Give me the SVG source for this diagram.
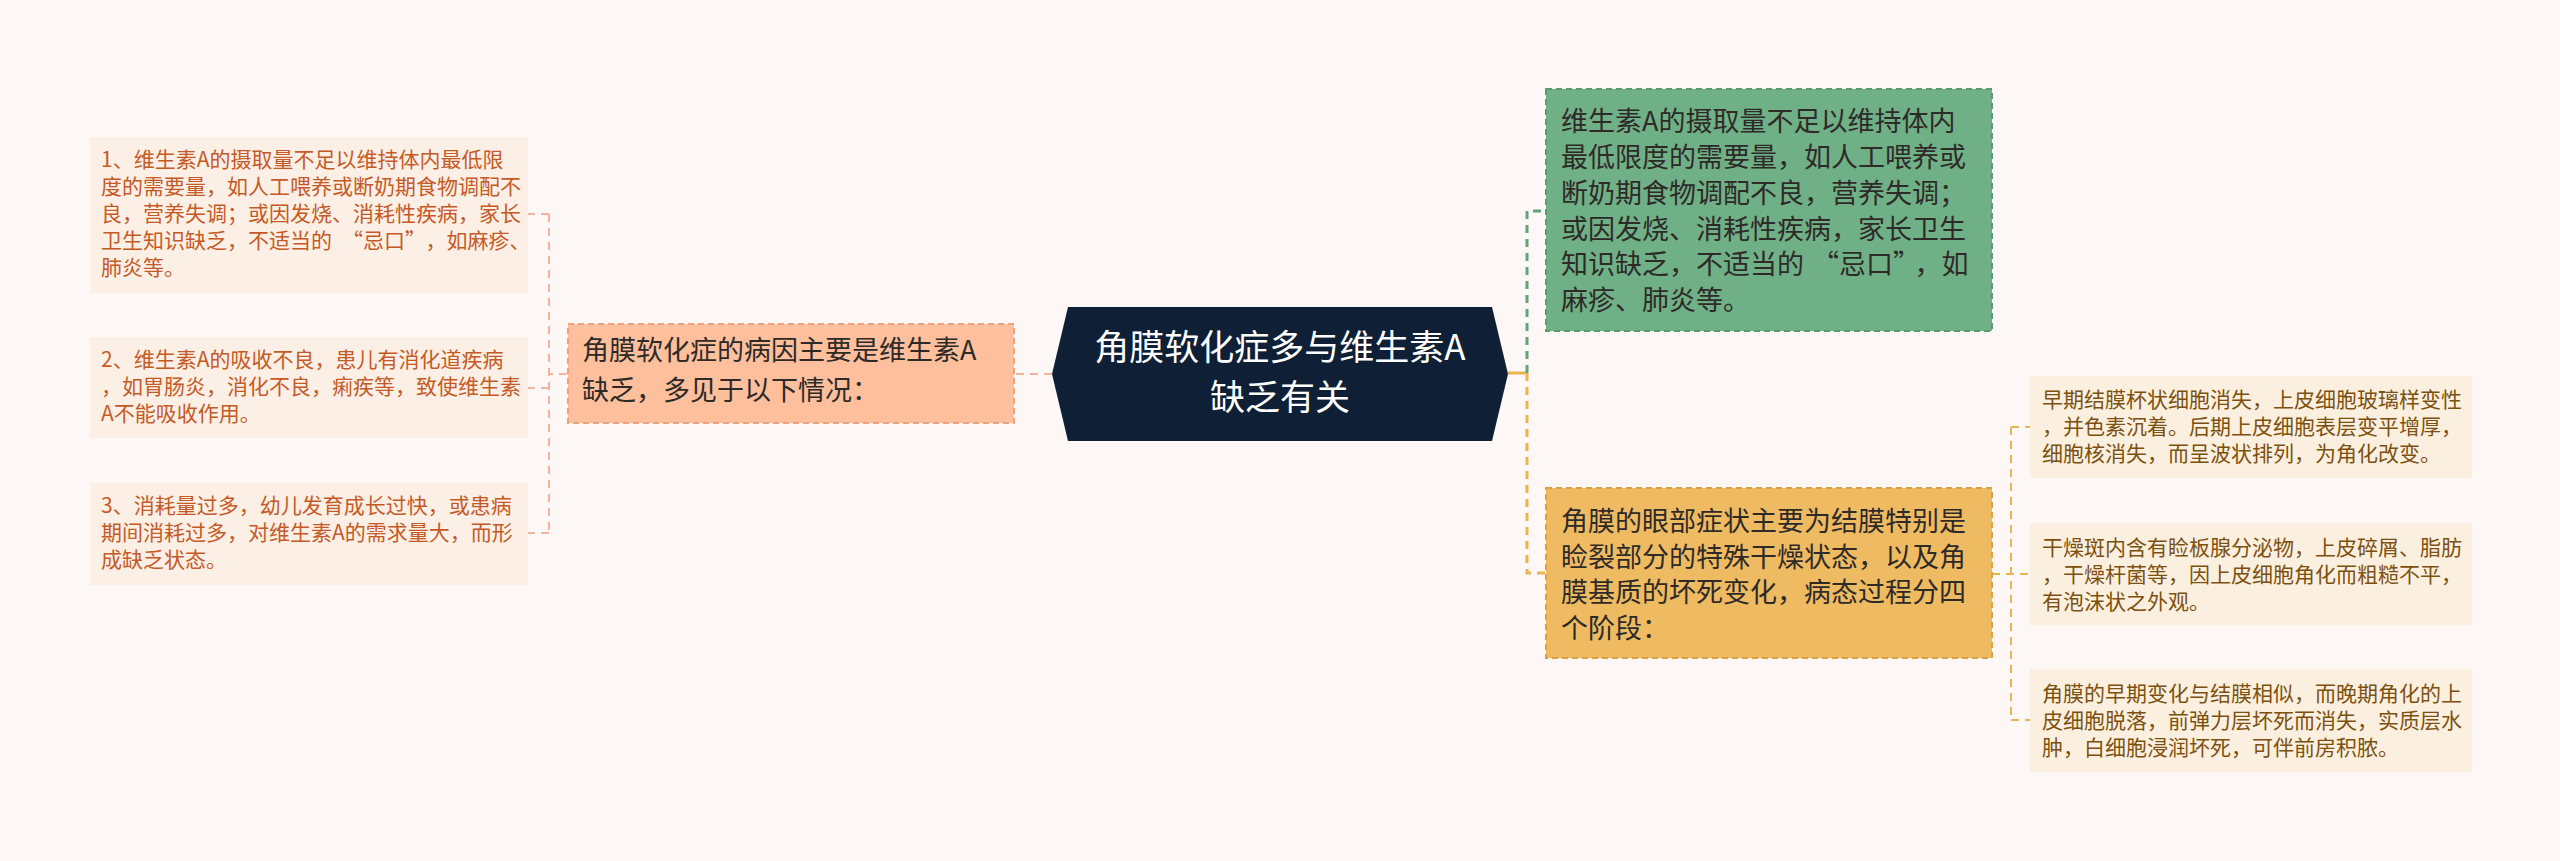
<svg xmlns="http://www.w3.org/2000/svg" width="2560" height="861" viewBox="0 0 2560 861">
<defs>
<style>
text { font-family: "Noto Sans CJK SC", "Noto Sans", sans-serif; }
.leafL rect { fill: #fcefe5; }
.leafL text { font-size: 21px; fill: #c65a26; }
.leafR rect { fill: #fbf0df; }
.leafR text { font-size: 21px; fill: #7e500f; }
.mid text { font-size: 27px; fill: #2e2a28; }
.conL { fill: none; stroke: #f2b59b; stroke-width: 2; stroke-dasharray: 8 6; }
.conG { fill: none; stroke: #5fa57a; stroke-width: 3; stroke-dasharray: 8 6; }
.conY { fill: none; stroke: #e9b552; stroke-width: 3; stroke-dasharray: 8 6; }
.conY2 { fill: none; stroke: #e9b552; stroke-width: 2; stroke-dasharray: 8 6; }
</style>
</defs>
<rect x="0" y="0" width="2560" height="861" fill="#fdf8f6"/>

<g id="connectors">
<path class="conL" d="M1052,374 H1014"/>
<path class="conL" d="M567,374 H549"/>
<path class="conL" d="M549,214 V533"/>
<path class="conL" d="M549,214 H528"/>
<path class="conL" d="M549,388 H528"/>
<path class="conL" d="M549,533 H528"/>
<path d="M1508,373 H1527" fill="none" stroke="#e9b552" stroke-width="3"/>
<path class="conG" d="M1527,373 V211 H1546"/>
<path class="conY" d="M1527,373 V573 H1546"/>
<path class="conY2" d="M1992,574 H2030"/>
<path class="conY2" d="M2011,427 V720"/>
<path class="conY2" d="M2011,427 H2030"/>
<path class="conY2" d="M2011,720 H2030"/>
</g>

<g id="root">
<polygon points="1068,307 1492,307 1508,374 1492,441 1068,441 1052,374" fill="#0e1f36"/>
<text x="1280" y="360" font-size="35" fill="#ffffff" text-anchor="middle">角膜软化症多与维生素A</text>
<text x="1280" y="410" font-size="35" fill="#ffffff" text-anchor="middle">缺乏有关</text>
</g>

<g id="cause" class="mid">
<rect x="568" y="324" width="446" height="99" fill="#fdbf9c" stroke="#f0a27e" stroke-width="2" stroke-dasharray="6 4"/>
<text x="582" y="360">角膜软化症的病因主要是维生素A</text>
<text x="582" y="400">缺乏，多见于以下情况：</text>
</g>

<g id="cause1" class="leafL">
<rect x="90" y="137" width="438" height="156"/>
<text x="101" y="167">1、维生素A的摄取量不足以维持体内最低限</text>
<text x="101" y="194">度的需要量，如人工喂养或断奶期食物调配不</text>
<text x="101" y="221">良，营养失调；或因发烧、消耗性疾病，家长</text>
<text x="101" y="248">卫生知识缺乏，不适当的<tspan dx="10">“</tspan>忌口”<tspan dx="10">，</tspan>如麻疹、</text>
<text x="101" y="275">肺炎等。</text>
</g>

<g id="cause2" class="leafL">
<rect x="90" y="337" width="438" height="101"/>
<text x="101" y="367">2、维生素A的吸收不良，患儿有消化道疾病</text>
<text x="101" y="394">，如胃肠炎，消化不良，痢疾等，致使维生素</text>
<text x="101" y="421">A不能吸收作用。</text>
</g>

<g id="cause3" class="leafL">
<rect x="90" y="483" width="438" height="102"/>
<text x="101" y="513">3、消耗量过多，幼儿发育成长过快，或患病</text>
<text x="101" y="540">期间消耗过多，对维生素A的需求量大，而形</text>
<text x="101" y="567">成缺乏状态。</text>
</g>

<g id="intake" class="mid">
<rect x="1546" y="89" width="446" height="242" fill="#70b086" stroke="#5a9a6f" stroke-width="2" stroke-dasharray="6 4"/>
<text x="1561" y="131">维生素A的摄取量不足以维持体内</text>
<text x="1561" y="167">最低限度的需要量，如人工喂养或</text>
<text x="1561" y="203">断奶期食物调配不良，营养失调；</text>
<text x="1561" y="239">或因发烧、消耗性疾病，家长卫生</text>
<text x="1561" y="274">知识缺乏，不适当的<tspan dx="8">“</tspan>忌口”<tspan dx="8">，</tspan>如</text>
<text x="1561" y="310">麻疹、肺炎等。</text>
</g>

<g id="symptoms" class="mid">
<rect x="1546" y="488" width="446" height="170" fill="#efbb62" stroke="#dca144" stroke-width="2" stroke-dasharray="6 4"/>
<text x="1561" y="531">角膜的眼部症状主要为结膜特别是</text>
<text x="1561" y="567">睑裂部分的特殊干燥状态，以及角</text>
<text x="1561" y="602">膜基质的坏死变化，病态过程分四</text>
<text x="1561" y="638">个阶段：</text>
</g>

<g id="stage1" class="leafR">
<rect x="2030" y="376" width="442" height="102"/>
<text x="2042" y="407">早期结膜杯状细胞消失，上皮细胞玻璃样变性</text>
<text x="2042" y="434">，并色素沉着。后期上皮细胞表层变平增厚，</text>
<text x="2042" y="461">细胞核消失，而呈波状排列，为角化改变。</text>
</g>

<g id="stage2" class="leafR">
<rect x="2030" y="523" width="442" height="102"/>
<text x="2042" y="555">干燥斑内含有睑板腺分泌物，上皮碎屑、脂肪</text>
<text x="2042" y="582">，干燥杆菌等，因上皮细胞角化而粗糙不平，</text>
<text x="2042" y="609">有泡沫状之外观。</text>
</g>

<g id="stage3" class="leafR">
<rect x="2030" y="669" width="442" height="103"/>
<text x="2042" y="701">角膜的早期变化与结膜相似，而晚期角化的上</text>
<text x="2042" y="728">皮细胞脱落，前弹力层坏死而消失，实质层水</text>
<text x="2042" y="755">肿，白细胞浸润坏死，可伴前房积脓。</text>
</g>
</svg>
